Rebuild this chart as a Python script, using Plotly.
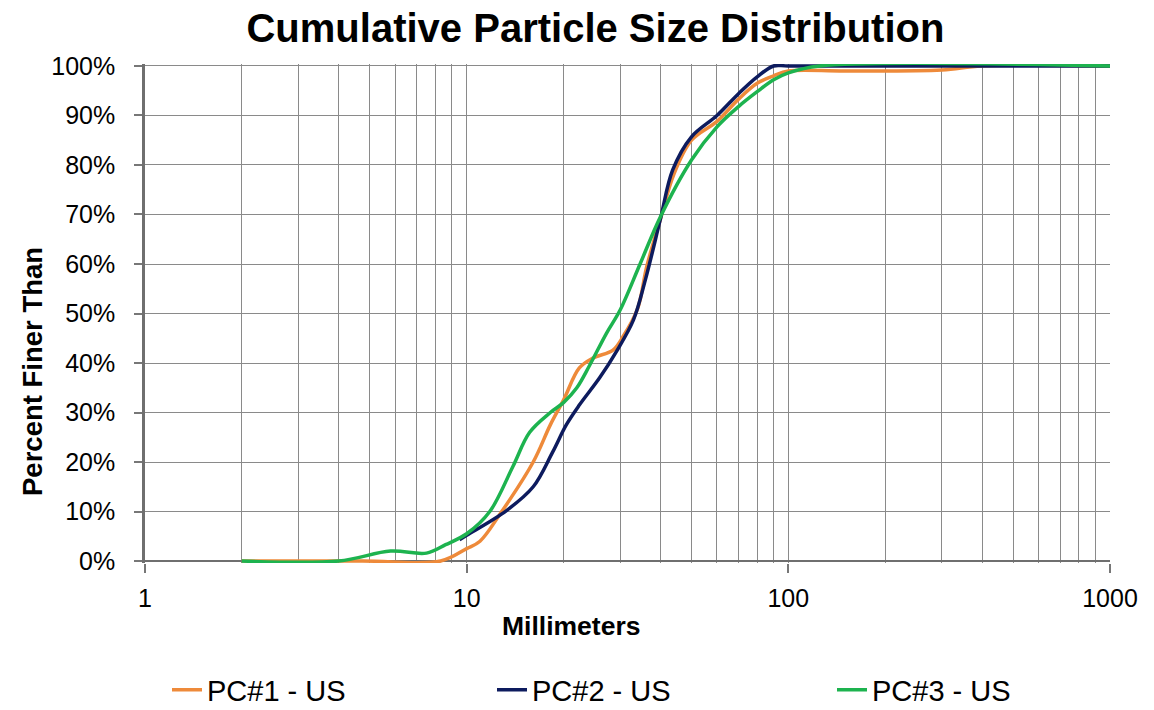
import plotly.graph_objects as go

# Sieve sizes (mm) and percent finer for each sample
pc1_mm = [2, 4.75, 8.3, 10, 11, 12.7, 16.1, 18.2, 20, 22.4, 24.7, 28.5, 30.6, 34, 36.3, 40, 44, 50, 60, 70, 80, 90, 100, 150, 300, 400, 1000]
pc1_pct = [0, 0, 0, 2.5, 4, 9.5, 20, 27.5, 32.5, 39, 41, 42.6, 45.3, 51, 59.5, 69, 78, 85, 88.8, 93.3, 96.5, 98, 99, 99, 99.2, 100, 100]

pc2_mm = [9.5, 10, 13.3, 16.1, 18.5, 20.4, 22.4, 25.9, 29.2, 33, 36, 40, 43.7, 50, 60, 70, 80, 90, 100, 1000]
pc2_pct = [4.3, 5.2, 10.2, 15, 22, 27.5, 31.5, 37, 42.3, 48.7, 57, 69, 79, 85.7, 90, 94.4, 97.8, 100, 100, 100]

pc3_mm = [2, 4, 5.8, 7.5, 8.6, 10, 11.8, 13.9, 15.7, 18.2, 20, 22, 24.1, 27.2, 30, 34.6, 40, 50, 60, 70, 80, 90, 100, 125, 1000]
pc3_pct = [0, 0, 2, 1.6, 3.3, 5.5, 10, 19, 26, 30, 32, 35, 39.5, 46, 50.7, 60, 69.5, 81, 87.7, 91.8, 94.8, 97.2, 98.6, 100, 100]

series_names = ["PC#1 - US", "PC#2 - US", "PC#3 - US"]
colors = ["#EE8A3A", "#0D1B5E", "#1DB34F"]

x_major = [1, 10, 100, 1000]
x_major_text = ["1", "10", "100", "1000"]
x_minor = [m * d for d in (1, 10, 100) for m in range(2, 10)]
y_ticks = list(range(0, 101, 10))
y_text = [f"{v}%" for v in y_ticks]

title_text = "Cumulative Particle Size Distribution"
x_title = "Millimeters"
y_title = "Percent Finer Than"

FONT = "Liberation Sans, Arial, sans-serif"
legend_ids = ["legend", "legend2", "legend3"]
legend_left_px = [167, 492, 832]

W, H = 1154, 710
ML, MR, MT, MB = 145, 44, 64, 147
PW, PH = W - ML - MR, H - MT - MB

fig = go.Figure()
for xs, ys, name, col, lg in zip([pc1_mm, pc2_mm, pc3_mm], [pc1_pct, pc2_pct, pc3_pct], series_names, colors, legend_ids):
    fig.add_trace(go.Scatter(x=xs, y=ys, name=name, mode="lines", legend=lg,
                             line=dict(color=col, width=3.5, shape="spline", smoothing=1.0)))

legend_common = dict(orientation="h", xref="container", xanchor="left", y=1 - 690 / H, yref="container",
                     yanchor="middle", font=dict(size=29, family=FONT), bgcolor="rgba(0,0,0,0)")

fig.update_layout(
    width=W, height=H,
    margin=dict(l=ML, r=MR, t=MT, b=MB),
    paper_bgcolor="white", plot_bgcolor="white",
    font=dict(family=FONT, color="#000000"),
    title=dict(text=f"<b>{title_text}</b>", x=0.516, xref="container", xanchor="center",
               y=1 - 28 / H, yref="container", yanchor="middle", font=dict(size=40, family=FONT)),
    showlegend=True,
    legend=dict(x=legend_left_px[0] / W, **legend_common),
    legend2=dict(x=legend_left_px[1] / W, **legend_common),
    legend3=dict(x=legend_left_px[2] / W, **legend_common),
    annotations=[
        dict(text=f"<b>{x_title}</b>", xref="paper", yref="paper",
             x=(571 - ML) / PW, y=-(626 - (H - MB)) / PH, xanchor="center", yanchor="middle",
             showarrow=False, font=dict(size=26.5, family=FONT)),
        dict(text=f"<b>{y_title}</b>", xref="paper", yref="paper", textangle=-90,
             x=(32 - ML) / PW, y=((H - MB) - 372) / PH, xanchor="center", yanchor="middle",
             showarrow=False, font=dict(size=27.5, family=FONT)),
    ],
)

fig.update_xaxes(
    type="log", range=[0, 3], automargin=False,
    tickmode="array", tickvals=x_major, ticktext=x_major_text,
    ticks="outside", ticklen=9, tickcolor="#777777", tickwidth=1.5,
    tickfont=dict(size=25), ticklabelstandoff=4,
    showgrid=True, gridcolor="#8a8a8a", gridwidth=1.3,
    minor=dict(tickmode="array", tickvals=x_minor, showgrid=True, gridcolor="#8a8a8a", gridwidth=1.3, ticks=""),
    showline=False, zeroline=False,
)

fig.update_yaxes(
    range=[-0.4, 100.4], automargin=False,
    tickmode="array", tickvals=y_ticks, ticktext=y_text,
    ticks="outside", ticklen=8, tickcolor="#777777", tickwidth=1.5,
    tickfont=dict(size=25), ticklabelstandoff=14,
    showgrid=True, gridcolor="#8a8a8a", gridwidth=1.3,
    zeroline=True, zerolinecolor="#6f6f6f", zerolinewidth=2,
    showline=True, linecolor="#6f6f6f", linewidth=2.5,
)

fig.write_html("out.html", config={"displayModeBar": False},
               post_script="document.body.style.margin='0';")
